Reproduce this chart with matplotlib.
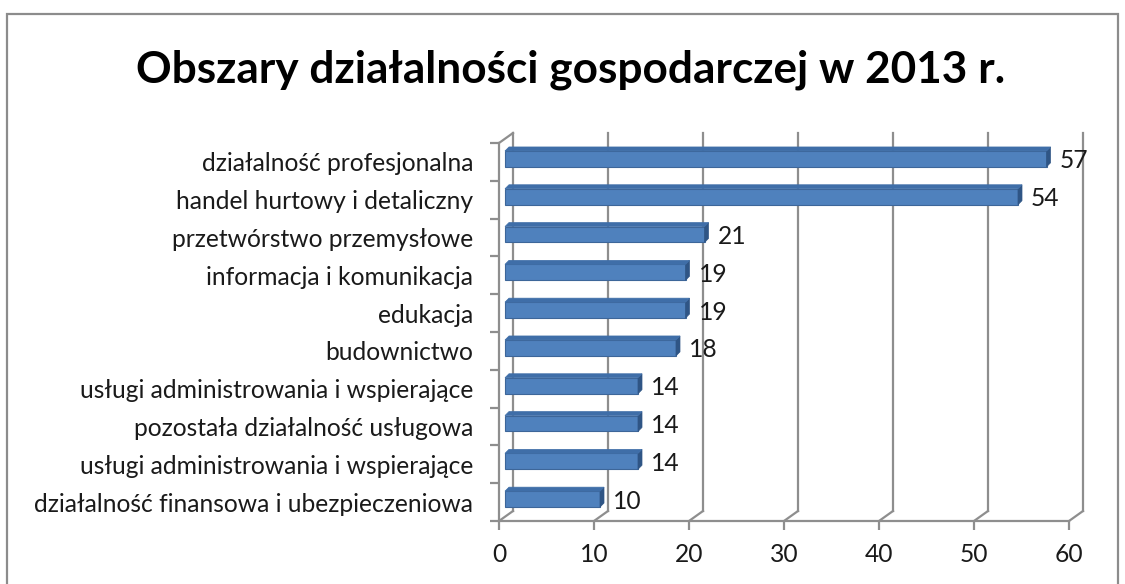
import matplotlib
matplotlib.use("Agg")
import matplotlib.pyplot as plt
from matplotlib.transforms import ScaledTranslation, IdentityTransform
from matplotlib.patches import Polygon, Rectangle
from matplotlib.lines import Line2D

categories = [
    "działalność profesjonalna",
    "handel hurtowy i detaliczny",
    "przetwórstwo przemysłowe",
    "informacja i komunikacja",
    "edukacja",
    "budownictwo",
    "usługi administrowania i wspierające",
    "pozostała działalność usługowa",
    "usługi administrowania i wspierające",
    "działalność finansowa i ubezpieczeniowa",
]
values = [57, 54, 21, 19, 19, 18, 14, 14, 14, 10]
xticks = [0, 10, 20, 30, 40, 50, 60]
title = "Obszary działalności gospodarczej w 2013 r."

W, H = 1125, 584
DPI = 100
plt.rcParams['font.family'] = ['Lato', 'DejaVu Sans']
FS = 17.7

fig = plt.figure(figsize=(W / DPI, H / DPI), dpi=DPI)
fig.patch.set_facecolor('white')

# frame
fig.add_artist(Rectangle((7 / W, -0.05), (1118 - 7) / W, 1 - 14 / H + 0.05,
                         transform=fig.transFigure, fill=False,
                         edgecolor='#8c8c8c', linewidth=1.6))

ax_l, ax_r, ax_t, ax_b = 499, 1069, 143, 521
ax = fig.add_axes([ax_l / W, 1 - ax_b / H, (ax_r - ax_l) / W, (ax_b - ax_t) / H])
ax.set_xlim(0, 60)
n = len(categories)
ax.set_ylim(-0.5, n - 0.5)
for s in ax.spines.values():
    s.set_visible(False)
ax.patch.set_visible(False)

def px(dx, dy):
    return ScaledTranslation(dx / DPI, dy / DPI, fig.dpi_scale_trans)

grid_c = '#8e8e8e'
lw = 1.6
# back wall gridlines
bdx, bdy = 14, 10
for v in xticks:
    ax.plot([v, v], [-0.5, n - 0.5], color=grid_c, lw=lw,
            transform=ax.transData + px(bdx, bdy), zorder=1, clip_on=False)
# floor diagonals
for v in xticks:
    x0, y0 = ax.transData.transform((v, -0.5))
    ln = Line2D([x0, x0 + bdx], [y0, y0 + bdy], color=grid_c, lw=lw, zorder=1)
    ln.set_transform(IdentityTransform())
    fig.add_artist(ln)
# left wall top diagonal
x0, y0 = ax.transData.transform((0, n - 0.5))
ln = Line2D([x0, x0 + bdx], [y0, y0 + bdy], color=grid_c, lw=lw, zorder=1)
ln.set_transform(IdentityTransform())
fig.add_artist(ln)
# front axes lines
ax.plot([0, 0], [-0.5, n - 0.5], color=grid_c, lw=lw, clip_on=False, zorder=1)
ax.plot([0, 60], [-0.5, -0.5], color=grid_c, lw=lw, clip_on=False, zorder=1)

# bars
ypos = list(range(n - 1, -1, -1))
bar_h = 0.42
bdx_bar, bdy_bar = 6, 3
off = ax.transData + px(bdx_bar, bdy_bar)
bars = ax.barh(ypos, values, height=bar_h, color='#4F81BD', edgecolor='#3d6699',
               linewidth=0.8, transform=off, zorder=3)
pxu_x = (ax_r - ax_l) / 60.0
pxu_y = (ax_b - ax_t) / n
sdx, sdy = 4 / pxu_x, 4 / pxu_y
for y, v in zip(ypos, values):
    y0, y1 = y - bar_h / 2, y + bar_h / 2
    side = Polygon([(v, y0), (v, y1), (v + sdx, y1 + sdy), (v + sdx, y0 + sdy)],
                   closed=True, facecolor='#2f5585', edgecolor='#2f5585',
                   lw=0.5, transform=off, zorder=4)
    ax.add_patch(side)
    top = Polygon([(0, y1), (v, y1), (v + sdx, y1 + sdy), (sdx, y1 + sdy)],
                  closed=True, facecolor='#3f6ea8', edgecolor='#3f6ea8',
                  lw=0.5, transform=off, zorder=4)
    ax.add_patch(top)
    ax.text(v, y, str(v), transform=off + px(13, -2), ha='left', va='center',
            fontsize=FS, color='#1a1a1a', zorder=5)

# ticks
ax.set_xticks(xticks)
ax.set_xticklabels([str(t) for t in xticks], fontsize=FS, color='#1a1a1a')
ax.tick_params(axis='x', length=6.5, width=lw, color=grid_c, pad=9)
ax.set_yticks(ypos)
ax.set_yticklabels(categories, fontsize=FS, color='#1a1a1a')
ax.tick_params(axis='y', which='major', length=0, pad=26 * 0.72)
ax.set_yticks([i - 0.5 for i in range(n + 1)], minor=True)
ax.tick_params(axis='y', which='minor', length=6.5, width=lw, color=grid_c)

fig.text(571 / W, 1 - 70 / H, title, ha='center', va='center',
         fontsize=31.8, fontweight='bold', color='black')

fig.savefig('out.png', dpi=DPI)
